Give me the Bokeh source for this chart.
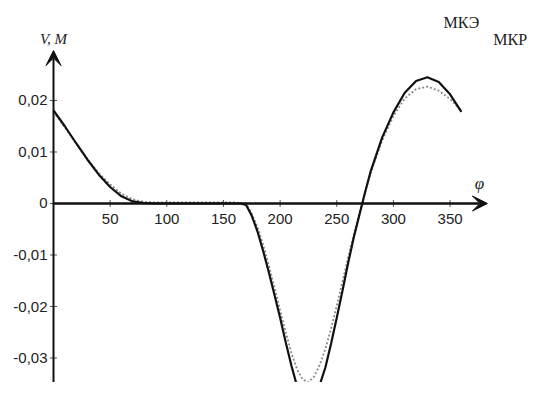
from bokeh.plotting import figure
from bokeh.models import Range1d, Arrow, VeeHead, Label, ColumnDataSource
from bokeh.embed import file_html
from bokeh.resources import INLINE
from bokeh.core.properties import value
import math

# ---- data ----
phi = [0, 10, 20, 30, 40, 50, 60, 70, 80, 90, 100, 110, 120, 130, 140, 150, 160,
       165, 170, 175, 180, 185, 190, 195, 200, 205, 210, 215, 220, 225, 230, 235,
       240, 245, 250, 255, 260, 265, 270, 275, 280, 290, 300, 310, 320, 330, 340,
       350, 360]
mke = [0.0181, 0.0150, 0.0117, 0.0085, 0.0056, 0.0032, 0.0014, 0.0004, 0.0001, 0.0, 0.0, 0.0,
       0.0, 0.0, 0.0, 0.0, 0.0,
       0.0, -0.0003, -0.0024, -0.0054, -0.0092, -0.0133, -0.0177, -0.0222, -0.0270, -0.0315,
       -0.0355, -0.0378, -0.0382, -0.0372, -0.0352,
       -0.0318, -0.0272, -0.0222, -0.0170, -0.0116, -0.0066, -0.0022, 0.0022, 0.0063, 0.0128,
       0.0177, 0.0215, 0.0238, 0.0245, 0.0236, 0.0212, 0.0178]
mkr = [0.0178, 0.0148, 0.0116, 0.0086, 0.0059, 0.0037, 0.0019, 0.0008, 0.0003, 0.0002, 0.0002,
       0.0002, 0.0002, 0.0002, 0.0002, 0.0002, 0.0002,
       0.0001, 0.0, -0.0020, -0.0046, -0.0080, -0.0120, -0.0163, -0.0207, -0.0250, -0.0290,
       -0.0322, -0.0342, -0.0347, -0.0336, -0.0313,
       -0.0282, -0.0243, -0.0198, -0.0152, -0.0105, -0.0060, -0.0018, 0.0022, 0.0060, 0.0122,
       0.0170, 0.0204, 0.0222, 0.0227, 0.0219, 0.0203, 0.0180]
x_ticks = [50, 100, 150, 200, 250, 300, 350]
x_tick_labels = ["50", "100", "150", "200", "250", "300", "350"]
y_ticks = [0.02, 0.01, 0.0, -0.01, -0.02, -0.03]
y_tick_labels = ["0,02", "0,01", "0", "-0,01", "-0,02", "-0,03"]
series_names = ["МКЭ", "МКР"]
y_title = "V, М"
x_title = "φ"

W, H = 529, 382
Y0, Y1 = -0.034757, 0.039417
p = figure(width=W, height=H, output_backend="svg", toolbar_location=None,
           x_range=Range1d(-46.78, 420.1), y_range=Range1d(Y0, Y1),
           min_border=0, min_border_left=0, min_border_right=0,
           min_border_top=0, min_border_bottom=0)
p.xaxis.visible = False
p.yaxis.visible = False
p.xgrid.visible = False
p.ygrid.visible = False
p.outline_line_color = None
p.background_fill_color = "white"
p.border_fill_color = "white"

# curves
p.line(phi, mkr, line_color="#8a8a8a", line_width=1.8, line_dash="2 2")
p.line(phi, mke, line_color="#111111", line_width=2.2)

# axes with arrows
p.add_layout(Arrow(end=VeeHead(size=15, fill_color="#111111", line_color="#111111"),
                   x_start=0, y_start=Y0, x_end=0, y_end=0.0297,
                   line_width=2, line_color="#111111"))
p.add_layout(Arrow(end=VeeHead(size=15, fill_color="#111111", line_color="#111111"),
                   x_start=0, y_start=0, x_end=383, y_end=0,
                   line_width=2.5, line_color="#111111"))

# ticks
p.scatter(x_ticks, [0] * len(x_ticks), marker="dash", angle=math.pi / 2, size=7,
          line_color="#555555", line_width=1)
p.scatter([0] * len(y_ticks), y_ticks, marker="dash", size=7,
          line_color="#555555", line_width=1)

tick_font = value("Liberation Sans Narrow, Liberation Sans, sans-serif")
xs = ColumnDataSource(dict(x=x_ticks, y=[0] * len(x_ticks), t=x_tick_labels))
p.text(x="x", y="y", text="t", source=xs, text_align="center", text_baseline="top",
       y_offset=11, text_font=tick_font, text_font_size="15px", text_color="#222222")
ys = ColumnDataSource(dict(x=[0] * len(y_ticks), y=y_ticks, t=y_tick_labels))
p.text(x="x", y="y", text="t", source=ys, text_align="right", text_baseline="middle",
       x_offset=-6, text_font=tick_font, text_font_size="15px", text_color="#222222")

serif = "Liberation Serif"
p.add_layout(Label(x=0, y=0.0320, text=y_title, text_align="center", text_baseline="middle",
                   text_font=serif, text_font_style="italic", text_font_size="15px",
                   text_color="#222222"))
p.add_layout(Label(x=376, y=0.0039, text=x_title, text_align="center", text_baseline="middle",
                   text_font=serif, text_font_style="italic", text_font_size="17px",
                   text_color="#222222"))
p.add_layout(Label(x=360, y=0.0351, text=series_names[0], text_align="center",
                   text_baseline="middle", text_font=serif, text_font_size="16px",
                   text_color="#222222"))
p.add_layout(Label(x=418, y=0.0318, text=series_names[1], text_align="right",
                   text_baseline="middle", text_font=serif, text_font_size="16px",
                   text_color="#222222"))

open("out.html", "w").write(file_html(p, INLINE))
